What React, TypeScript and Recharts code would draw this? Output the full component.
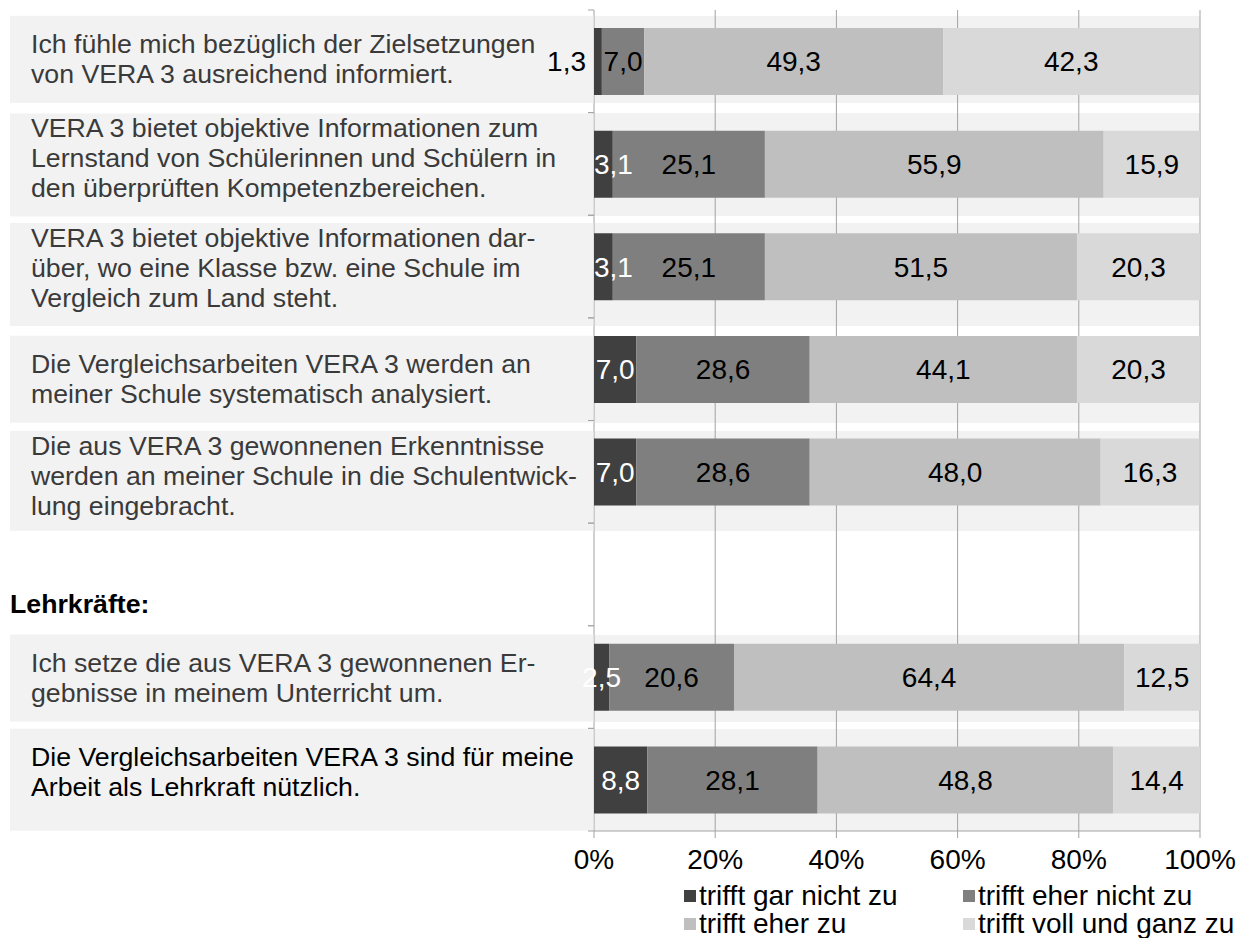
import React from 'react';
import { BarChart, Bar, XAxis, YAxis, CartesianGrid, LabelList, Legend } from 'recharts';

// ---------- data ----------
const categories: string[] = [
  'Ich fühle mich bezüglich der Zielsetzungen\nvon VERA 3 ausreichend informiert.',
  'VERA 3 bietet objektive Informationen zum\nLernstand von Schülerinnen und Schülern in\nden überprüften Kompetenzbereichen.',
  'VERA 3 bietet objektive Informationen dar-\nüber, wo eine Klasse bzw. eine Schule im\nVergleich zum Land steht.',
  'Die Vergleichsarbeiten VERA 3 werden an\nmeiner Schule systematisch analysiert.',
  'Die aus VERA 3 gewonnenen Erkenntnisse\nwerden an meiner Schule in die Schulentwick-\nlung eingebracht.',
  'Lehrkräfte:',
  'Ich setze die aus VERA 3 gewonnenen Er-\ngebnisse in meinem Unterricht um.',
  'Die Vergleichsarbeiten VERA 3 sind für meine\nArbeit als Lehrkraft nützlich.',
];
const headingRows: string[] = ['Lehrkräfte:'];

const trifftGarNicht: (number | null)[] = [1.3, 3.1, 3.1, 7.0, 7.0, null, 2.5, 8.8];
const trifftEherNicht: (number | null)[] = [7.0, 25.1, 25.1, 28.6, 28.6, null, 20.6, 28.1];
const trifftEherZu: (number | null)[] = [49.3, 55.9, 51.5, 44.1, 48.0, null, 64.4, 48.8];
const trifftVoll: (number | null)[] = [42.3, 15.9, 20.3, 20.3, 16.3, null, 12.5, 14.4];

const seriesNames: string[] = ['trifft gar nicht zu', 'trifft eher nicht zu', 'trifft eher zu', 'trifft voll und ganz zu'];
const xTicks: number[] = [0, 20, 40, 60, 80, 100];

// ---------- style / layout ----------
const COLORS = ['#404040', '#7f7f7f', '#bfbfbf', '#d9d9d9'];
const LABEL_COLORS = ['#ffffff', '#000000', '#000000', '#000000'];
const ROW_BG = '#f2f2f2';
const GRID = '#a3a3a3';
const FONT = '"Liberation Sans", Arial, Helvetica, sans-serif';
const FS_CAT = 26.7;
const FS = 28;
const LINE_H = 30;

const W = 1246;
const H = 938;
const MARGIN = { top: 10, right: 46, bottom: 67, left: 0 };
const YAXIS_W = 594;
const XAXIS_H = 40;
const PLOT_LEFT = MARGIN.left + YAXIS_W;
const PLOT_H = H - MARGIN.top - MARGIN.bottom - XAXIS_H;
const BAND = PLOT_H / categories.length;
const BOX_LEFT = 10;
const TEXT_LEFT = 31;
// label box behind each row: [shift of box centre vs. band centre, box height]
const ROW_BOX: ([number, number] | null)[] = [
  [-2, 87], [1, 103], [8, 103], [10, 87], [9, 100], null, [1, 87], [0, 102],
];

const data = categories.map((cat, i) => ({
  cat,
  s0: trifftGarNicht[i],
  s1: trifftEherNicht[i],
  s2: trifftEherZu[i],
  s3: trifftVoll[i],
}));

const fmt = (v: number) => v.toFixed(1).replace('.', ',');
const textWidth = (s: string, fs: number) =>
  s.split('').reduce((a, ch) => a + (ch === ',' ? 0.278 : 0.556), 0) * fs;

// stripes of the row boxes inside the plot area (computed from the band layout)
const boxStripes = (args: any) => {
  const off = args && args.offset ? args.offset : null;
  const top = off ? off.top : MARGIN.top;
  const band = off ? off.height / categories.length : BAND;
  const pts: number[] = [];
  ROW_BOX.forEach((b, i) => {
    if (!b) return;
    const c = top + band * (i + 0.5) + b[0];
    pts.push(c - b[1] / 2, c + b[1] / 2);
  });
  return pts;
};

function CategoryTick(props: any) {
  const { y, payload, index } = props;
  const half = payload && typeof payload.offset === 'number' && payload.offset > 0 ? payload.offset : BAND / 2;
  const label: string = String(payload.value);
  const lines = label.split('\n');
  const top = y - half;
  const bottom = y + half;
  const marks = (
    <g>
      <line x1={PLOT_LEFT - 6} x2={PLOT_LEFT} y1={top} y2={top} stroke={GRID} strokeWidth={1} />
      <line x1={PLOT_LEFT - 6} x2={PLOT_LEFT} y1={bottom} y2={bottom} stroke={GRID} strokeWidth={1} />
    </g>
  );
  if (headingRows.includes(label)) {
    return (
      <g>
        {marks}
        <text x={BOX_LEFT} y={y + 29} dy="0.35em" fontFamily={FONT} fontSize={FS_CAT} fontWeight="bold" fill="#000">
          {label}
        </text>
      </g>
    );
  }
  const box = ROW_BOX[index] || [0, lines.length > 2 ? 102 : 88];
  const boxTop = y + box[0] - box[1] / 2;
  const firstBaseline = boxTop + (lines.length > 2 ? 24 : 37);
  const isLast = index === categories.length - 1;
  return (
    <g>
      <rect x={BOX_LEFT} y={boxTop} width={PLOT_LEFT - 0.5 - BOX_LEFT} height={box[1]} fill={ROW_BG} />
      {marks}
      <text fontFamily={FONT} fontSize={FS_CAT} fill={isLast ? '#000' : '#3a3a3a'}>
        {lines.map((ln, i) => (
          <tspan key={i} x={TEXT_LEFT} y={firstBaseline + i * LINE_H}>
            {ln}
          </tspan>
        ))}
      </text>
    </g>
  );
}

function makeLabel(seriesIdx: number) {
  return (props: any) => {
    const { x, y, width, height, value } = props;
    if (value === null || value === undefined || value === '') return null;
    const v = Number(value);
    const txt = fmt(v);
    let cx = x + width / 2;
    let anchor: 'middle' | 'end' = 'middle';
    let fill = LABEL_COLORS[seriesIdx];
    if (seriesIdx === 0 && v < 2) {
      cx = x - 8;
      anchor = 'end';
      fill = '#000';
    } else if (seriesIdx === 0 && v >= 3) {
      const halfW = textWidth(txt, FS) / 2;
      if (cx - halfW < x) cx = x + halfW;
    }
    return (
      <text x={cx} y={y + height / 2} dy="0.35em" textAnchor={anchor} fontFamily={FONT} fontSize={FS} fill={fill}>
        {txt}
      </text>
    );
  };
}

function LegendContent() {
  return (
    <div style={{ display: 'grid', gridTemplateColumns: '279px 290px', fontFamily: FONT, fontSize: FS, color: '#000', lineHeight: '28px' }}>
      {seriesNames.map((n, i) => (
        <div key={n} style={{ display: 'flex', alignItems: 'center', whiteSpace: 'nowrap' }}>
          <span style={{ display: 'inline-block', width: 12, height: 12, background: COLORS[i], marginRight: 3 }} />
          <span>{n}</span>
        </div>
      ))}
    </div>
  );
}

export default function App() {
  const keys = ['s0', 's1', 's2', 's3'];
  return (
    <div style={{ position: 'absolute', left: 0, top: 0, width: W, height: H, background: '#fff' }}>
      <BarChart width={W} height={H} data={data} layout="vertical" margin={MARGIN} barSize={67}>
        <CartesianGrid
          horizontal
          vertical={false}
          stroke="none"
          horizontalFill={['none', ROW_BG]}
          horizontalCoordinatesGenerator={boxStripes}
        />
        <CartesianGrid horizontal={false} vertical stroke={GRID} strokeWidth={1} />
        <YAxis
          type="category"
          dataKey="cat"
          width={YAXIS_W}
          interval={0}
          tickLine={false}
          axisLine={false}
          tick={<CategoryTick />}
        />
        <XAxis
          type="number"
          domain={[0, 100]}
          ticks={xTicks}
          allowDataOverflow
          height={XAXIS_H}
          tickFormatter={(v: number) => `${v}%`}
          tick={{ fontFamily: FONT, fontSize: FS, fill: '#000' }}
          tickLine={{ stroke: GRID }}
          tickSize={7}
          tickMargin={11}
          axisLine={{ stroke: GRID }}
        />
        {keys.map((k, i) => (
          <Bar key={k} dataKey={k} stackId="a" name={seriesNames[i]} fill={COLORS[i]} isAnimationActive={false}>
            <LabelList dataKey={k} content={makeLabel(i)} />
          </Bar>
        ))}
        <Legend
          layout="vertical"
          verticalAlign="middle"
          align="center"
          content={<LegendContent />}
          wrapperStyle={{ left: 684, top: 882, width: 580, height: 60 }}
        />
      </BarChart>
    </div>
  );
}
